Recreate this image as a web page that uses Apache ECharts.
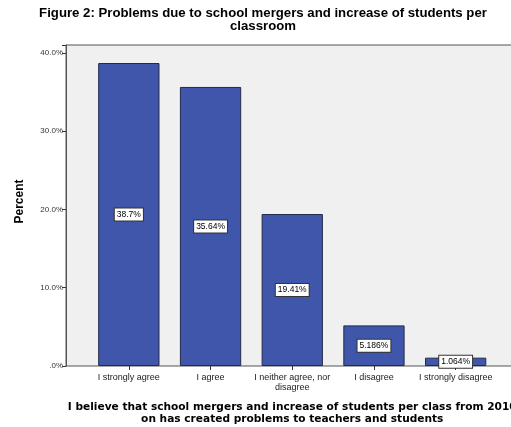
<!DOCTYPE html>
<html><head><meta charset="utf-8">
<script src="https://cdn.jsdelivr.net/npm/echarts@6/dist/echarts.min.js"></script>
<style>html,body{margin:0;padding:0;background:#fff}#c{width:511px;height:427px}</style>
</head><body><div id="c"></div>
<script>
const categories = ['I strongly agree', 'I agree', 'I neither agree, nor\ndisagree', 'I disagree', 'I strongly disagree'];
const percents = [38.7, 35.64, 19.41, 5.186, 1.064];
const percentLabels = ['38.7%', '35.64%', '19.41%', '5.186%', '1.064%'];
const yTicks = [0, 10, 20, 30, 40];

const FONT = 'Liberation Sans, Arial, sans-serif';
const chart = echarts.init(document.getElementById('c'), null, {renderer: 'canvas'});
const yFmt = v => (v === 0 ? '.0%' : v.toFixed(1) + '%');
chart.setOption({
  animation: false,
  backgroundColor: '#ffffff',
  title: {
    text: 'Figure 2: Problems due to school mergers and increase of students per\nclassroom',
    left: 258, top: 2, textAlign: 'center',
    textStyle: {fontFamily: FONT, fontSize: 13.2, fontWeight: 'bold', color: '#000', lineHeight: 13}
  },
  grid: [
    {left: 66, right: -2, top: 45, bottom: 61, show: true, backgroundColor: '#f0f0f0', borderColor: '#555', borderWidth: 1, outerBoundsMode: 'none', containLabel: false},
    {left: 88, right: 14.5, top: 45, bottom: 61, outerBoundsMode: 'none', containLabel: false}
  ],
  xAxis: [
    {type: 'value', gridIndex: 0, show: false, min: 0, max: 1},
    {type: 'category', gridIndex: 1, data: categories,
     axisLine: {show: false},
     axisTick: {show: true, alignWithLabel: true, length: 4, lineStyle: {color: '#333'}},
     axisLabel: {fontFamily: FONT, fontSize: 9, color: '#222', margin: 7, lineHeight: 10, interval: 0},
     name: 'I believe that school mergers and increase of students per class from 2010\non has created problems to teachers and students',
     nameLocation: 'middle', nameGap: 35,
     nameTextStyle: {fontFamily: 'DejaVu Sans, Verdana, sans-serif', fontSize: 10.6, fontWeight: 'bold', color: '#000', lineHeight: 12}
    }
  ],
  yAxis: [
    {type: 'value', gridIndex: 0, min: 0, max: 41, interval: 10,
     axisLine: {show: true, lineStyle: {color: '#555'}},
     axisTick: {show: true, length: 4, lineStyle: {color: '#333'}},
     splitLine: {show: false},
     axisLabel: {fontFamily: FONT, fontSize: 8, color: '#333', margin: 3,
       formatter: v => yTicks.includes(v) ? yFmt(v) : ''},
     name: 'Percent', nameLocation: 'middle', nameGap: 40, nameRotate: 90,
     nameTextStyle: {fontFamily: FONT, fontSize: 12, fontWeight: 'bold', color: '#000', padding: [0, 0, 0, 8]}
    },
    {type: 'value', gridIndex: 1, min: 0, max: 41, show: false}
  ],
  series: [{
    type: 'bar', xAxisIndex: 1, yAxisIndex: 1,
    data: percents, barWidth: '75%',
    itemStyle: {color: '#3f56aa', borderColor: '#22294a', borderWidth: 1},
    label: {show: true, position: 'inside',
      formatter: p => percentLabels[p.dataIndex],
      fontFamily: FONT, fontSize: 8.5, color: '#000',
      backgroundColor: '#fff', borderColor: '#333', borderWidth: 1,
      padding: [2, 2, 1, 2]}
  }]
});
</script></body></html>
